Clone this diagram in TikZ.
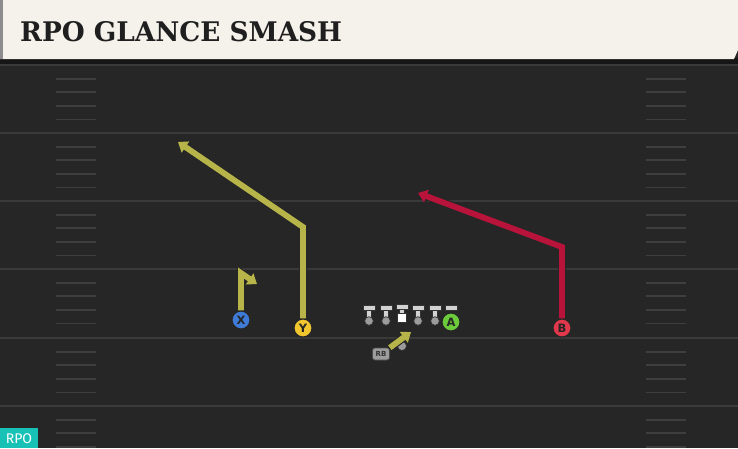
\documentclass[tikz,border=0pt]{standalone}
\usepackage{fontspec}
\usetikzlibrary{arrows.meta}
\setmainfont{DejaVu Sans}
\newfontfamily\titlefont{DejaVu Serif}
\newfontfamily\badgefont{Fira Sans}
\definecolor{fieldbg}{HTML}{262626}
\definecolor{yardline}{HTML}{3A3A3A}
\definecolor{hashc}{HTML}{3E3E3E}
\definecolor{headbg}{HTML}{F4F2EB}
\definecolor{headshadow}{HTML}{161616}
\definecolor{routeyel}{HTML}{B7B549}
\definecolor{routered}{HTML}{B8143B}
\definecolor{xblue}{HTML}{3E7BD6}
\definecolor{yyel}{HTML}{F2C62E}
\definecolor{agreen}{HTML}{6CCB3A}
\definecolor{bred}{HTML}{E2384B}
\definecolor{teal}{HTML}{17C1B5}
\definecolor{linegray}{HTML}{D2D2D2}
\definecolor{dotgray}{HTML}{9C9C9C}
\tikzset{
  player/.style={circle, minimum size=18pt, inner sep=0pt, draw=black!85, line width=1.1pt,
    font=\fontsize{11.5}{11.5}\selectfont\bfseries, text=black!85},
  routeshade/.style={line width=8pt, draw=black!85, line join=miter,
    -{Triangle[length=11pt,width=15pt]}},
  routeyl/.style={line width=5.8pt, draw=routeyel, line join=miter,
    -{Triangle[length=9pt,width=13pt,fill=routeyel]}},
  routerd/.style={line width=5.8pt, draw=routered, line join=miter,
    -{Triangle[length=9pt,width=13pt,fill=routered]}},
  yardstyle/.style={draw=yardline, line width=2.2pt},
  hashstyle/.style={draw=hashc, line width=1.8pt},
  olbar/.style={fill=linegray, draw=black!80, line width=0.7pt},
}
\begin{document}
\begin{tikzpicture}[x=1pt,y=-1pt]
\useasboundingbox (0,0) rectangle (738,448);
% field
\fill[fieldbg] (0,0) rectangle (738,448);
% yard lines
\foreach \yy in {65,133,201,269,338,406} {
  \draw[yardstyle] (0,\yy) -- (738,\yy);
}
% hash marks
\foreach \base in {65,133,201,269,338,406} {
  \foreach \k in {1,2,3,4} {
    \pgfmathsetmacro{\hy}{\base+13.6*\k}
    \draw[hashstyle] (56,\hy) -- (96,\hy);
    \draw[hashstyle] (646,\hy) -- (686,\hy);
  }
}
% header
\fill[headshadow] (0,58) rectangle (738,64);
\fill[headbg] (0,0) -- (738,0) -- (738,50) -- (734,59) -- (0,59) -- cycle;
\fill[black!45] (0,0) rectangle (3,59);
\node[anchor=west, inner sep=0pt, text=black!88] (title) at (20,32)
  {\scalebox{0.975}[1]{\titlefont\bfseries\fontsize{27}{27}\selectfont RPO GLANCE SMASH}};
% RPO badge
\fill[teal] (0,428) rectangle (38,448);
\node[text=white, inner sep=0pt] (badge) at (19,438.5) {\badgefont\fontsize{14}{14}\selectfont RPO};
% linemen
\foreach \lx in {369,386,418,435} {
  \fill[olbar] (\lx-2.3,309) rectangle (\lx+2.3,319);
  \fill[dotgray, draw=black!80, line width=0.7pt] (\lx,321) circle (4.3pt);
  \fill[olbar] (\lx-6,305.5) rectangle (\lx+6,310.5);
}
\fill[olbar] (451-6,305.5) rectangle (451+6,310.5);
\fill[olbar] (402-2.3,308) rectangle (402+2.3,314);
\fill[olbar] (402-6,304.5) rectangle (402+6,309.5);
\fill[white, draw=black!80, line width=0.7pt] (397.5,313) rectangle (406.5,322.5);
% players
\node[player, fill=xblue] (X) at (241,320) {X};
\node[player, fill=yyel] (Y) at (303,328) {Y};
\node[player, fill=agreen] (A) at (451,322) {A};
\node[player, fill=bred] (B) at (562,328) {B};
% RB
\fill[dotgray, draw=black!80, line width=0.7pt] (402,346) circle (4.5pt);
\node[fill=dotgray, draw=black!70, line width=0.7pt, rounded corners=2.5pt, inner sep=0pt,
  minimum width=17pt, minimum height=12pt, font=\fontsize{7}{7}\selectfont\bfseries, text=black!80]
  (RB) at (381,354) {RB};
% route end points
\coordinate (xb) at (241,273);
\coordinate (xe) at (257,284);
\coordinate (yb) at (303,227);
\coordinate (ye) at (178,142);
\coordinate (bb) at (562,247);
\coordinate (be) at (418,193);
\coordinate (rbe) at (411,332);
% routes
\draw[routeshade] (X.north) -- (xb) -- (xe);
\draw[routeyl] (X.north) -- (xb) -- (xe);
\draw[routeshade] (Y.north) -- (yb) -- (ye);
\draw[routeyl] (Y.north) -- (yb) -- (ye);
\draw[routeshade] (B.north) -- (bb) -- (be);
\draw[routerd] (B.north) -- (bb) -- (be);
\draw[routeshade] (RB.north east) -- (rbe);
\draw[routeyl] (RB.north east) -- (rbe);
\end{tikzpicture}
\end{document}
